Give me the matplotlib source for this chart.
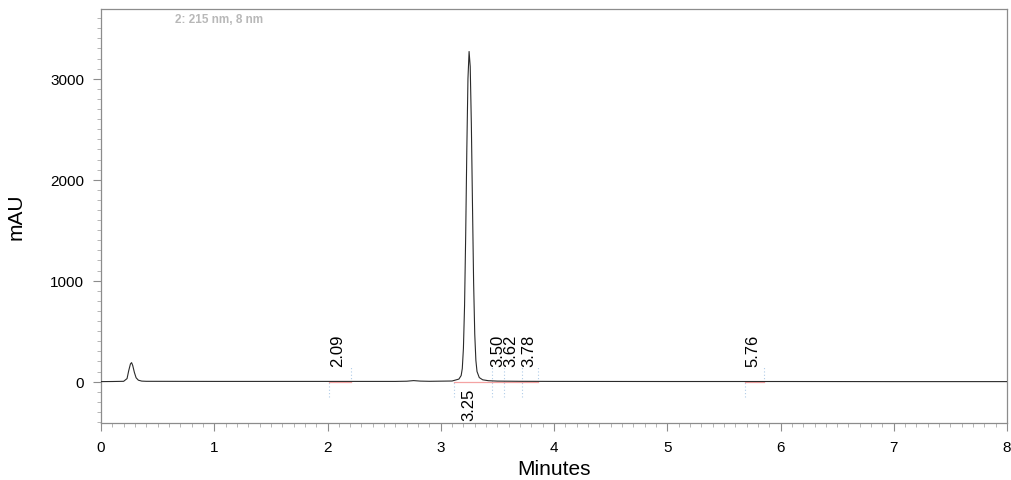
import matplotlib
matplotlib.use("Agg")
import matplotlib.pyplot as plt
from matplotlib.ticker import MultipleLocator

# Chromatogram trace (minutes, mAU)
time = [0.00, 0.10, 0.20, 0.23, 0.245, 0.26, 0.27, 0.28, 0.295, 0.31, 0.33, 0.36, 0.40,
        1.00, 2.00, 2.60, 2.70, 2.76, 2.82, 2.90, 3.10, 3.16, 3.18, 3.19, 3.20, 3.21,
        3.22, 3.23, 3.24, 3.25, 3.26, 3.27, 3.28, 3.29, 3.30, 3.31, 3.32, 3.34, 3.37,
        3.42, 3.50, 3.70, 4.00, 5.00, 6.00, 7.00, 8.00]
signal = [0, 1, 3, 30, 110, 175, 188, 160, 90, 38, 14, 5, 3,
          2, 2, 2, 4, 10, 5, 3, 6, 25, 60, 130, 330, 750,
          1450, 2300, 3000, 3270, 3120, 2550, 1750, 980, 470, 210, 100, 40, 18,
          9, 5, 3, 2, 1, 1, 0, 0]

# Integrated peaks
peak_rt = [2.09, 3.25, 3.50, 3.62, 3.78, 5.76]
peak_labels = ["2.09", "3.25", "3.50", "3.62", "3.78", "5.76"]
peak_start = [2.01, 3.12, 3.45, 3.56, 3.72, 5.69]
peak_end = [2.21, 3.45, 3.56, 3.72, 3.86, 5.85]
label_below = [False, True, False, False, False, False]

FAM = ["Liberation Sans", "DejaVu Sans"]

fig = plt.figure(figsize=(10.11, 4.81), dpi=100)
ax = fig.add_axes([0.0999, 0.1185, 0.8962, 0.8605])
plt.rcParams['font.family'] = FAM

ax.plot(time, signal, color="#2a2a2a", lw=0.8, zorder=3)

for rt, lab, s, e, below in zip(peak_rt, peak_labels, peak_start, peak_end, label_below):
    ax.plot([s, e], [0, 0], color="#f4a3a3", lw=0.9, zorder=2)
    ax.plot([s, s], [-150, 0], color="#b0cce8", lw=0.8, ls=(0, (1, 2)), zorder=1)
    ax.plot([e, e], [0, 150], color="#b0cce8", lw=0.8, ls=(0, (1, 2)), zorder=1)
    if below:
        ax.text(rt, -60, lab, rotation=90, ha="center", va="top", fontsize=12, family=FAM)
    else:
        ax.text(rt, 150, lab, rotation=90, ha="center", va="bottom", fontsize=12, family=FAM)

ax.text(0.65, 3590, "2: 215 nm, 8 nm", color="#b8b8b8", fontsize=8.5, fontweight="bold",
        ha="left", va="center", family=FAM)

ax.set_xlim(0, 8)
ax.set_ylim(-410, 3690)
ax.xaxis.set_major_locator(MultipleLocator(1))
ax.xaxis.set_minor_locator(MultipleLocator(0.1))
ax.yaxis.set_major_locator(MultipleLocator(1000))
ax.yaxis.set_minor_locator(MultipleLocator(100))

for sp in ax.spines.values():
    sp.set_color("#8c8c8c")
    sp.set_linewidth(0.9)
ax.tick_params(which="major", length=6, color="#8c8c8c", labelsize=11, pad=6)
ax.tick_params(which="minor", length=3, color="#aaaaaa")
for lab in ax.get_xticklabels() + ax.get_yticklabels():
    lab.set_family(FAM)

ax.set_xlabel("Minutes", fontsize=15, family=FAM, labelpad=4)
ax.set_ylabel("mAU", fontsize=15, family=FAM, labelpad=18)

fig.savefig("out.png", dpi=100)
